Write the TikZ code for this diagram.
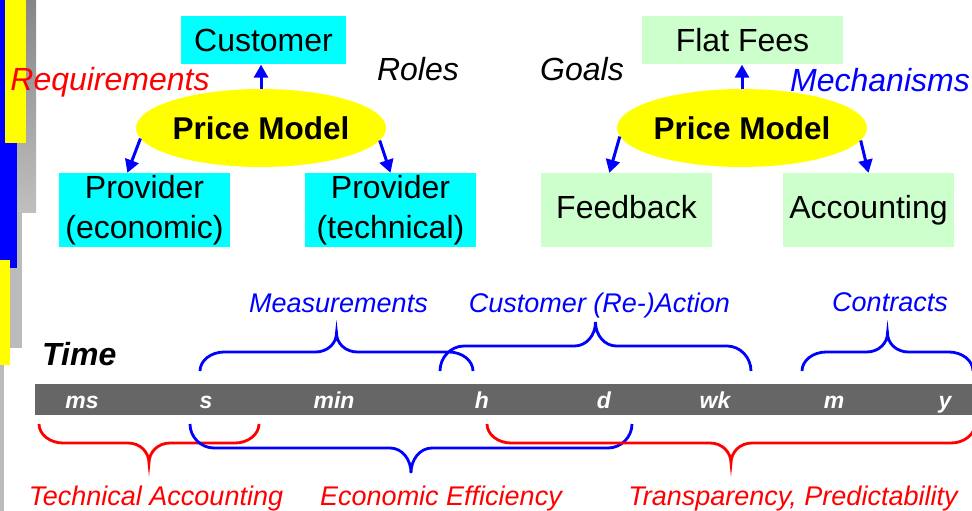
\documentclass[tikz,border=0pt]{standalone}
\usepackage{fontspec}
\setmainfont{Liberation Sans}
\usetikzlibrary{shapes.geometric,arrows.meta,calc}

\definecolor{boxcyan}{HTML}{00FFFF}
\definecolor{boxgreen}{HTML}{CCFFCC}
\definecolor{pmyellow}{HTML}{FFFF00}
\definecolor{barblue}{HTML}{0000FF}
\definecolor{barred}{HTML}{FF0000}
\definecolor{timebar}{HTML}{666666}
\definecolor{edgegray}{HTML}{BBBBBB}

% curly brace across a span: style, left x, right x, end y, line y, tip y
\newcommand\spanbrace[6]{%
  \pgfmathsetmacro\bxm{(#2+#3)/2}%
  \pgfmathsetmacro\bya{#4+0.55*(#5-#4)}%
  \pgfmathsetmacro\byb{#5+0.45*(#6-#5)}%
  \draw[#1] (#2,#4) .. controls (#2,\bya) and (#2+11,#5) .. (#2+24,#5)
    -- (\bxm-21,#5) .. controls (\bxm-9,#5) and (\bxm,\byb) .. (\bxm,#6)
    .. controls (\bxm,\byb) and (\bxm+9,#5) .. (\bxm+21,#5)
    -- (#3-24,#5) .. controls (#3-11,#5) and (#3,\bya) .. (#3,#4);
}

\tikzset{
  bigfont/.style={font=\fontsize{32}{39.5}\selectfont},
  rolebox/.style={bigfont, fill=boxcyan, inner sep=0, align=center,
    minimum width=171pt, minimum height=74pt},
  goalbox/.style={bigfont, fill=boxgreen, inner sep=0, text height=22pt,
    text depth=5pt, minimum width=171pt, minimum height=74pt},
  topbox/.style={bigfont, inner sep=0, text height=23pt, text depth=0pt,
    minimum height=48pt},
  pmodel/.style={ellipse, fill=pmyellow, inner sep=0, minimum width=250pt,
    minimum height=78pt, font=\fontsize{31.5}{37}\selectfont\bfseries},
  flow/.style={barblue, line width=3pt,
    -{Triangle[width=14pt,length=13pt]}},
  sidelabel/.style={anchor=base, inner sep=0,
    font=\fontsize{32}{37}\selectfont\itshape},
  spanlabel/.style={anchor=base, inner sep=0,
    font=\fontsize{27}{32}\selectfont\itshape},
  tick/.style={anchor=base, inner sep=0, text=white,
    font=\fontsize{23}{28}\selectfont\bfseries\itshape},
  bracestroke/.style={line width=2.8pt},
}

\begin{document}
\begin{tikzpicture}[x=1pt,y=-1pt]
\useasboundingbox (0,0) rectangle (972,511);

% slide edge bars
\shade[top color=gray!95, bottom color=gray!50] (17,0) rectangle (36,212);
\fill[edgegray] (0,212) rectangle (22,348);
\fill[barblue] (0,0) rectangle (5,143);
\fill[barblue] (0,143) rectangle (17,268);
\fill[pmyellow] (5,0) rectangle (26,143);
\fill[pmyellow] (0,260) rectangle (10,365);
\fill[edgegray] (0,365) rectangle (4,511);

% roles of the price model
\node[topbox, fill=boxcyan, minimum width=165pt] (cust) at (263.5,40.5) {Customer};
\node[pmodel] (pmL) at (261,128) {Price Model};
\node[rolebox] (peco) at (144.5,210) {Provider\\(economic)};
\node[rolebox] (ptec) at (390.5,210) {Provider\\(technical)};
\draw[flow] (pmL.north) -- (cust.south -| pmL.north);
\draw[flow] (pmL.185) -- ($(peco.north west)!0.4!(peco.north east)$);
\draw[flow] (pmL.354) -- (ptec.north);

% goals and mechanisms
\node[topbox, fill=boxgreen, minimum width=201pt] (flat) at (742.5,40.5) {Flat Fees};
\node[pmodel] (pmR) at (742,128) {Price Model};
\node[goalbox] (feed) at (626.5,210) {Feedback};
\node[goalbox] (acct) at (868.5,210) {Accounting};
\draw[flow] (pmR.north) -- (flat.south -| pmR.north);
\draw[flow] (pmR.184) -- ($(feed.north west)!0.4!(feed.north east)$);
\draw[flow] (pmR.354) -- (acct.north);

\node[sidelabel, text=barred] (req) at (110,90) {Requirements};
\node[sidelabel] (roles) at (418,81) {Roles};
\node[sidelabel] (goals) at (582,81) {Goals};
\node[sidelabel, text=barblue] (mech) at (880,92) {Mechanisms};

% time axis
\node[anchor=base west, inner sep=0,
  font=\fontsize{32}{37}\selectfont\bfseries\itshape] (time) at (42,365) {Time};
\fill[timebar] (35,384) rectangle (972,415);
\node[tick] (tms) at (82,408) {ms};
\node[tick] (ts) at (206,408) {s};
\node[tick] (tmin) at (334,408) {min};
\node[tick] (th) at (482,408) {h};
\node[tick] (td) at (604,408) {d};
\node[tick] (twk) at (715,408) {wk};
\node[tick] (tm) at (834,408) {m};
\node[tick] (ty) at (945,408) {y};

% spans above the axis
\spanbrace{bracestroke, barblue}{200}{473}{371}{352}{333}
\spanbrace{bracestroke, barblue}{440}{751}{371}{346}{322}
\spanbrace{bracestroke, barblue}{802}{973}{371}{352}{333}
\node[spanlabel, text=barblue] (meas) at (338.5,312) {Measurements};
\node[spanlabel, text=barblue] (react) at (599.5,312) {Customer (Re-)Action};
\node[spanlabel, text=barblue] (contr) at (890,311) {Contracts};

% spans below the axis
\spanbrace{bracestroke, barred}{39}{259}{424}{443}{463}
\spanbrace{bracestroke, barblue}{190}{632}{424}{448}{473}
\spanbrace{bracestroke, barred}{487}{975}{424}{443}{463}
\node[spanlabel, text=barred] (tacc) at (156,505) {Technical Accounting};
\node[spanlabel, text=barred] (eeff) at (441,505) {Economic Efficiency};
\node[spanlabel, text=barred] (trans) at (793,505) {Transparency, Predictability};
\end{tikzpicture}
\end{document}
